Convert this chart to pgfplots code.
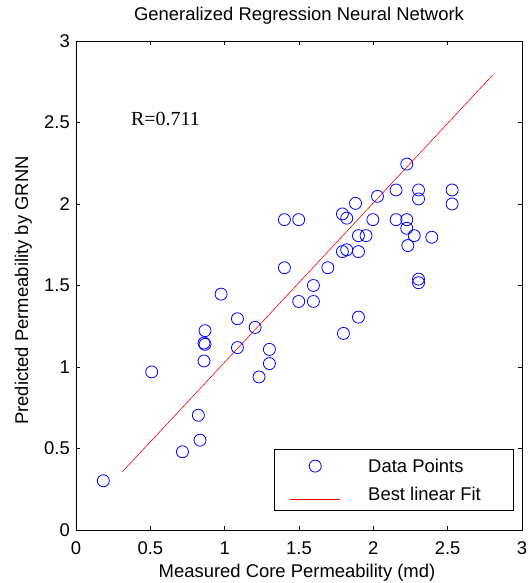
\documentclass[border=0pt]{standalone}
\usepackage{pgfplots}
\pgfplotsset{compat=1.18}
\usepackage{fontspec}
\setmainfont{Liberation Sans}
\newfontfamily\timesfont{Liberation Serif}
\pgfplotsset{
  markleg/.style={legend image code/.code={\draw[##1] plot coordinates {(0bp,0bp)}; \path[draw=none,fill=none] (-25.3bp,-14bp) rectangle (53bp,14bp);}},
  lineleg/.style={legend image code/.code={\draw[##1] (-25bp,-5bp) -- (25bp,-5bp); \path[draw=none,fill=none] (-25.3bp,-14bp) rectangle (53bp,14bp);}},
}
\begin{document}
\begin{tikzpicture}
\path (-76bp,-53bp) rectangle (455bp,530bp);
\begin{axis}[
  at={(0,0)}, anchor=south west,
  scale only axis, width=446bp, height=489bp,
  xmin=0, xmax=3, ymin=0, ymax=3,
  xtick={0,0.5,...,3}, ytick={0,0.5,...,3},
  xticklabels={0,0.5,1,1.5,2,2.5,3},
  yticklabels={0,0.5,1,1.5,2,2.5,3},
  tick align=inside, major tick length=4bp,
  tick style={black, line width=0.6bp},
  axis line style={black, line width=0.8bp},
  font=\fontsize{18.5}{22}\selectfont,
  ticklabel style={font=\fontsize{18.5}{22}\selectfont},
  /pgf/number format/assume math mode=true,
  xticklabel style={anchor=base, inner sep=0pt, yshift=-24bp},
  yticklabel style={anchor=east, inner sep=0pt, xshift=-6bp},
  title={Generalized Regression Neural Network},
  title style={at={(axis description cs:0.5,1+15/489)}, anchor=base, inner sep=0pt},
  xlabel={Measured Core Permeability (md)},
  xlabel style={at={(axis description cs:0.5-2/446,-48/489)}, anchor=base, inner sep=0pt},
  ylabel={Predicted Permeability by GRNN},
  ylabel style={at={(axis description cs:-48/446,0.5-5/489)}, anchor=base, inner sep=0pt},
  legend style={at={(438.3/446,19/489)}, anchor=south east, draw=black, line width=0.8bp,
    fill=white, font=\fontsize{18.5}{22}\selectfont, inner xsep=16bp, inner ysep=2.5bp,
    row sep=0pt, nodes={inner sep=0pt}},
  legend cell align=left,
]
\addplot[only marks, mark=o, mark size=6bp, color=blue, mark options={line width=0.8bp}, markleg]
  coordinates {
(2.153,2.086) (2.304,2.086) (2.304,2.031) (2.530,2.086) (2.530,2.000)
(2.028,2.047) (1.880,2.004) (1.792,1.939) (1.821,1.913) (1.997,1.904)
(1.402,1.904) (1.498,1.904) (2.153,1.904) (2.225,1.904) (2.225,1.851)
(2.275,1.806) (2.393,1.796) (1.900,1.806) (1.951,1.806) (2.232,1.745)
(1.792,1.708) (1.821,1.719) (1.900,1.708) (1.694,1.609) (1.402,1.609)
(2.304,1.539) (2.304,1.517) (1.597,1.500) (1.498,1.402) (1.597,1.402)
(0.976,1.447) (1.900,1.306) (1.799,1.206) (1.086,1.296) (1.205,1.243)
(0.868,1.223) (0.861,1.147) (0.868,1.139) (1.086,1.119) (1.301,1.108)
(1.301,1.021) (0.861,1.037) (1.231,0.939) (0.509,0.970) (0.823,0.704)
(0.834,0.551) (0.716,0.480) (0.184,0.302) (2.225,2.245)
};
\addlegendentry{Data Points}
\addplot[red, line width=0.6bp, no marks, lineleg]
  coordinates {(0.312,0.357) (2.802,2.790)};
\addlegendentry{Best linear Fit\hspace*{17bp}}
\node[anchor=base west, font=\timesfont\fontsize{20}{24}\selectfont, inner sep=0pt]
  at (axis cs:0.37,2.48) {R=0.711};
\end{axis}
\end{tikzpicture}
\end{document}
